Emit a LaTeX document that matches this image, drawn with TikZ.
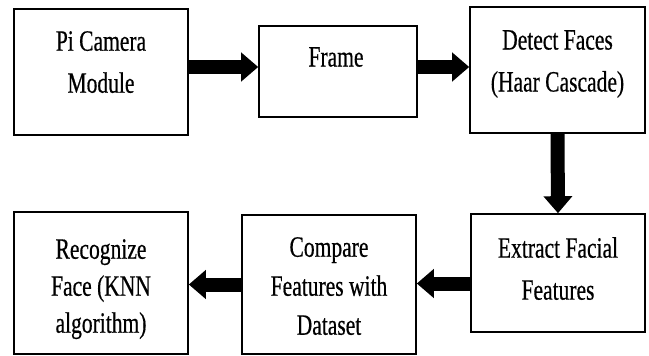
\documentclass[tikz,border=0pt]{standalone}
\usepackage{fontspec}
\setmainfont[FakeStretch=0.73, FakeBold=0.5]{Liberation Serif}
\usetikzlibrary{arrows.meta}

\tikzset{
  box/.style={draw=black, line width=1.6pt, fill=white, inner sep=0pt},
  txt/.style={anchor=north, inner sep=0pt, align=center, text=black},
  two/.style={txt, font=\fontsize{29.5}{42}\selectfont},
  flow/.style={draw=black, line width=14pt,
    -{Triangle[length=17pt, width=28pt]}},
}

\begin{document}
\begin{tikzpicture}[x=1pt, y=-1pt]
  \useasboundingbox (0,0) rectangle (649,356);

  % blocks of the pipeline
  \node[box, minimum width=174pt, minimum height=126pt] (b1) at (101,72) {};
  \node[box, minimum width=158pt, minimum height=91pt]  (b2) at (338,71.5) {};
  \node[box, minimum width=175pt, minimum height=126pt] (b3) at (557.5,70) {};
  \node[box, minimum width=174pt, minimum height=118pt] (b4) at (558,273) {};
  \node[box, minimum width=174pt, minimum height=139pt] (b5) at (329,284.5) {};
  \node[box, minimum width=174pt, minimum height=142pt] (b6) at (101,283) {};

  % block captions
  \node[two] (t1) at (101,31) {Pi Camera\\Module};
  \node[two] (t2) at (336,47) {Frame};
  \node[two] (t3) at (557.5,30) {Detect Faces\\(Haar Cascade)};
  \node[two] (t4) at (558,237) {Extract Facial\\Features};
  \node[txt, font=\fontsize{29.5}{39}\selectfont] (t5) at (329,237)
    {Compare\\Features with\\Dataset};
  \node[txt, font=\fontsize{29.5}{37}\selectfont] (t6) at (101,239)
    {Recognize\\Face (KNN\\algorithm)};

  % block arrows between the stages
  \draw[flow] ([yshift=5pt]b1.east) -- ([yshift=4.5pt]b2.west);
  \draw[flow] ([yshift=4.5pt]b2.east) -- ([yshift=3pt]b3.west);
  \draw[flow] (b3.south) -- (b4.north);
  \draw[flow] ([yshift=-10.5pt]b4.west) -- ([yshift=1pt]b5.east);
  \draw[flow] (b5.west) -- ([yshift=-1.5pt]b6.east);
\end{tikzpicture}
\end{document}
